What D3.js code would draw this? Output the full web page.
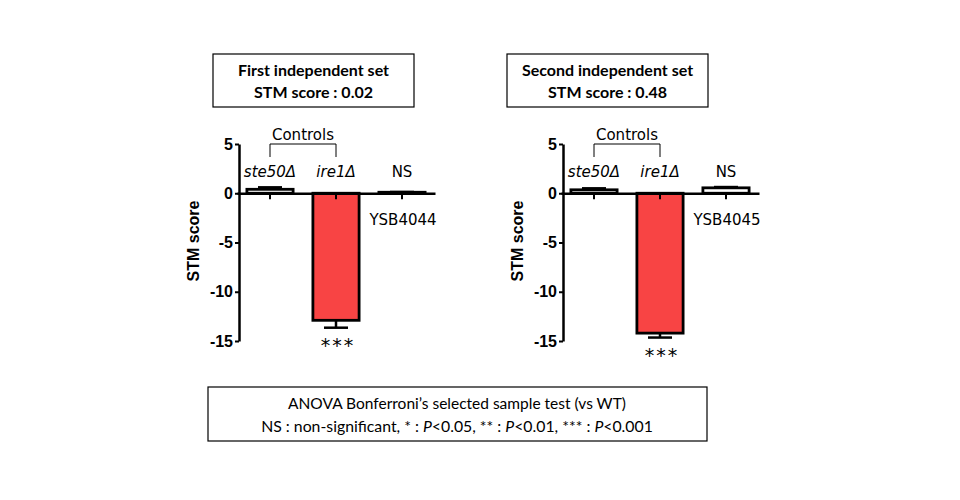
<!DOCTYPE html>
<html>
<head>
<meta charset="utf-8">
<script src="https://cdn.jsdelivr.net/npm/d3@7"></script>
<style>
  body { margin: 0; background: #fff; }
  svg { display: block; }
</style>
</head>
<body>
<svg id="chart" width="960" height="500"></svg>
<script>
// data
var strains = ["ste50", "ire1", "sample"];
var topLabels = ["ste50\u0394", "ire1\u0394", "NS"];
var italicLabel = [true, true, false];
var set1Values = [0.4, -12.9, 0.1];
var set1Errors = [0.2, 0.75, 0.03];
var set2Values = [0.35, -14.2, 0.55];
var set2Errors = [0.15, 0.45, 0.08];
var sampleNames = ["YSB4044", "YSB4045"];
var setTitles = ["First independent set", "Second independent set"];
var setScores = ["0.02", "0.48"];
var yTicks = [5, 0, -5, -10, -15];
var significance = ["", "***", ""];

var svg = d3.select("#chart");
var red = "#f84444";

var y = d3.scaleLinear().domain([-15, 5]).range([341, 144]);

function drawPanel(x0, values, errors, sampleName, title, score, boxX) {
    var g = svg.append("g");

    var x = d3.scaleBand()
        .domain(strains)
        .range([x0, x0 + 198])
        .paddingInner(0.3)
        .paddingOuter(0.15);
    var bw = x.bandwidth();

    // error bars first (one sided, away from zero)
    strains.forEach(function(s, i) {
        var v = values[i], e = errors[i];
        var cx = x(s) + bw / 2;
        var end = v >= 0 ? v + e : v - e;
        g.append("line")
            .attr("x1", cx).attr("x2", cx)
            .attr("y1", y(v)).attr("y2", y(end))
            .attr("stroke", "black").attr("stroke-width", 2.5);
        g.append("line")
            .attr("x1", cx - 12).attr("x2", cx + 12)
            .attr("y1", y(end)).attr("y2", y(end))
            .attr("stroke", "black").attr("stroke-width", 2.5);
    });

    // bars
    g.selectAll("rect.bar").data(values).enter().append("rect")
        .attr("class", "bar")
        .attr("x", function(d, i) { return x(strains[i]); })
        .attr("width", bw)
        .attr("y", function(d) { return y(Math.max(0, d)); })
        .attr("height", function(d) { return Math.abs(y(d) - y(0)); })
        .attr("fill", function(d) { return d < -5 ? red : "white"; })
        .attr("stroke", "black")
        .attr("stroke-width", 2.8);

    // x axis at zero
    var xAxis = d3.axisBottom(x).tickSize(6).tickSizeOuter(0).tickFormat("");
    var xg = g.append("g")
        .attr("transform", "translate(0," + y(0) + ")")
        .call(xAxis);
    xg.select(".domain").attr("stroke-width", 2.5);
    xg.selectAll(".tick line").attr("stroke-width", 2);

    // y axis, plain hyphen minus like the original
    var yAxis = d3.axisLeft(y).tickValues(yTicks).tickSize(4).tickSizeOuter(0)
        .tickFormat(function(d) { return String(d); });
    var yg = g.append("g")
        .attr("transform", "translate(" + (x0 + 2) + ",0)")
        .call(yAxis);
    yg.select(".domain").attr("stroke-width", 2.5);
    yg.selectAll(".tick line").attr("stroke-width", 2);
    yg.selectAll(".tick text")
        .attr("font-family", "Liberation Sans, Arial, sans-serif")
        .attr("font-weight", "bold")
        .attr("font-size", 16)
        .attr("fill", "black")
        .attr("x", -6);

    g.append("text")
        .attr("transform", "translate(" + (x0 - 44) + "," + 241 + ") rotate(-90)")
        .attr("text-anchor", "middle")
        .attr("dy", "0.35em")
        .attr("font-family", "Liberation Sans, Arial, sans-serif")
        .attr("font-weight", "bold")
        .attr("font-size", 16)
        .text("STM score");

    // category labels above
    g.selectAll("text.cat").data(topLabels).enter().append("text")
        .attr("class", "cat")
        .attr("x", function(d, i) { return x(strains[i]) + bw / 2; })
        .attr("y", 177)
        .attr("text-anchor", "middle")
        .attr("font-family", "DejaVu Sans, Verdana, sans-serif")
        .attr("font-size", 15)
        .attr("font-style", function(d, i) { return italicLabel[i] ? "italic" : "normal"; })
        .text(function(d) { return d; });

    // sample name under the third bar
    g.append("text")
        .attr("x", x(strains[2]) + bw / 2 + 1)
        .attr("y", 225)
        .attr("text-anchor", "middle")
        .attr("font-family", "DejaVu Sans, Verdana, sans-serif")
        .attr("font-size", 15)
        .text(sampleName);

    // significance stars
    significance.forEach(function(s, i) {
        if (!s) return;
        var v = values[i] - errors[i];
        g.append("text")
            .attr("x", x(strains[i]) + bw / 2 + 2)
            .attr("y", y(v) + 24)
            .attr("text-anchor", "middle")
            .attr("font-family", "DejaVu Sans, Verdana, sans-serif")
            .attr("font-size", 19)
            .attr("letter-spacing", 2)
            .text(s);
    });

    // Controls bracket
    var c1 = x(strains[0]) + bw / 2, c2 = x(strains[1]) + bw / 2;
    g.append("path")
        .attr("d", "M" + c1 + ",157V144H" + c2 + "V157")
        .attr("fill", "none")
        .attr("stroke", "black")
        .attr("stroke-width", 1);
    g.append("text")
        .attr("x", (c1 + c2) / 2)
        .attr("y", 140)
        .attr("text-anchor", "middle")
        .attr("font-family", "DejaVu Sans, Verdana, sans-serif")
        .attr("font-size", 15)
        .text("Controls");

    // title box
    g.append("rect")
        .attr("x", boxX).attr("y", 54)
        .attr("width", 201).attr("height", 53)
        .attr("fill", "white").attr("stroke", "black").attr("stroke-width", 1.2);
    g.append("text")
        .attr("x", boxX + 100.5).attr("y", 76)
        .attr("text-anchor", "middle")
        .attr("font-family", "Lato, sans-serif")
        .attr("font-weight", "bold")
        .attr("font-size", 16)
        .text(title);
    g.append("text")
        .attr("x", boxX + 100.5).attr("y", 98)
        .attr("text-anchor", "middle")
        .attr("font-family", "Lato, sans-serif")
        .attr("font-weight", "bold")
        .attr("font-size", 16)
        .text("STM score : " + score);
}

drawPanel(237, set1Values, set1Errors, sampleNames[0], setTitles[0], setScores[0], 213);
drawPanel(561, set2Values, set2Errors, sampleNames[1], setTitles[1], setScores[1], 507);

// legend box for the test
svg.append("rect")
    .attr("x", 208).attr("y", 387)
    .attr("width", 499).attr("height", 54)
    .attr("fill", "white").attr("stroke", "black").attr("stroke-width", 1.2);

svg.append("text")
    .attr("x", 457).attr("y", 409)
    .attr("text-anchor", "middle")
    .attr("font-family", "Lato, sans-serif")
    .attr("font-size", 15.5)
    .text("ANOVA Bonferroni\u2019s selected sample test (vs WT)");

var line2 = svg.append("text")
    .attr("x", 457).attr("y", 432)
    .attr("text-anchor", "middle")
    .attr("font-family", "Lato, sans-serif")
    .attr("font-size", 15.8);
var parts = [["NS : non-significant, * : ", false], ["P", true], ["<0.05, ** : ", false],
             ["P", true], ["<0.01, *** : ", false], ["P", true], ["<0.001", false]];
parts.forEach(function(p) {
    line2.append("tspan")
        .attr("font-style", p[1] ? "italic" : "normal")
        .text(p[0]);
});
</script>
</body>
</html>
